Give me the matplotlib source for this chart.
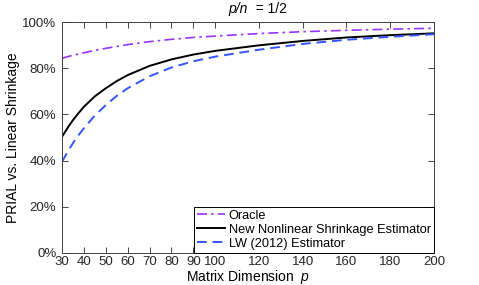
import matplotlib
matplotlib.use('Agg')
import matplotlib.pyplot as plt
import numpy as np

plt.rcParams['font.family'] = 'Liberation Sans'
plt.rcParams['mathtext.fontset'] = 'custom'
plt.rcParams['mathtext.it'] = 'Liberation Sans:italic'
plt.rcParams['mathtext.rm'] = 'Liberation Sans'

# matrix dimension p
p = [30, 33, 35, 37, 40, 45, 50, 55, 60, 70, 80, 90, 100, 120, 140, 160, 180, 200]
# PRIAL in %
oracle = [84.3, 85.1, 85.6, 86.0, 86.7, 87.7, 88.6, 89.4, 90.2, 91.5, 92.5, 93.3, 93.9, 95.0, 95.8, 96.4, 96.9, 97.3]
nonlinear = [50.3, 54.8, 57.5, 59.9, 63.3, 67.8, 71.3, 74.4, 77.0, 81.0, 83.8, 85.9, 87.5, 89.9, 91.8, 93.3, 94.3, 95.1]
lw2012 = [39.5, 44.5, 47.5, 50.3, 54.0, 59.5, 64.0, 68.0, 71.3, 76.5, 80.3, 83.0, 85.0, 88.0, 90.5, 92.3, 93.6, 94.7]

xticks = [30, 40, 50, 60, 70, 80, 90, 100, 120, 140, 160, 180, 200]
yticks = [0, 20, 40, 60, 80, 100]

fig = plt.figure(figsize=(4.79, 2.85), dpi=100)
ax = fig.add_axes([0.1294, 0.1123, 0.7766, 0.8105])

ax.plot(p, oracle, color='#9933ff', linestyle=(0, (6, 2.5, 1.5, 2.5)), linewidth=1.2, label='Oracle')
ax.plot(p, nonlinear, color='black', linewidth=1.4, label='New Nonlinear Shrinkage Estimator')
ax.plot(p, lw2012, color='#3355ff', linestyle=(0, (5, 3)), linewidth=1.4, label='LW (2012) Estimator')

ax.set_xlim(30, 200)
ax.set_ylim(0, 100)
ax.set_xticks(xticks)
ax.set_yticks(yticks)
ax.set_yticklabels(['%d%%' % v for v in yticks])
ax.tick_params(direction='in', top=True, right=True, length=4, width=0.6, labelsize=9.5, colors='#262626')
ax.tick_params(axis='y', pad=4)
ax.tick_params(axis='x', pad=2)
for s in ax.spines.values():
    s.set_linewidth(0.7)
    s.set_color('#404040')

# title: italic p/n, upright "= 1/2"
ax.text(0.5, 1.025, 'p/n', transform=ax.transAxes, ha='right', va='bottom',
        fontsize=10, fontstyle='italic')
ax.text(0.5, 1.025, '  = 1/2', transform=ax.transAxes, ha='left', va='bottom', fontsize=10)

ax.set_xlabel(r'Matrix Dimension  $p$', fontsize=10, labelpad=0)
ax.set_ylabel('PRIAL vs. Linear Shrinkage', fontsize=10, labelpad=2)

leg = ax.legend(loc='lower right', fontsize=9.2, fancybox=False, framealpha=1, borderaxespad=0,
                handlelength=2.2, handletextpad=0.3, borderpad=0.25, labelspacing=0.15)
leg.get_frame().set_edgecolor('black')
leg.get_frame().set_linewidth(0.7)

fig.savefig('out.png', dpi=100)
